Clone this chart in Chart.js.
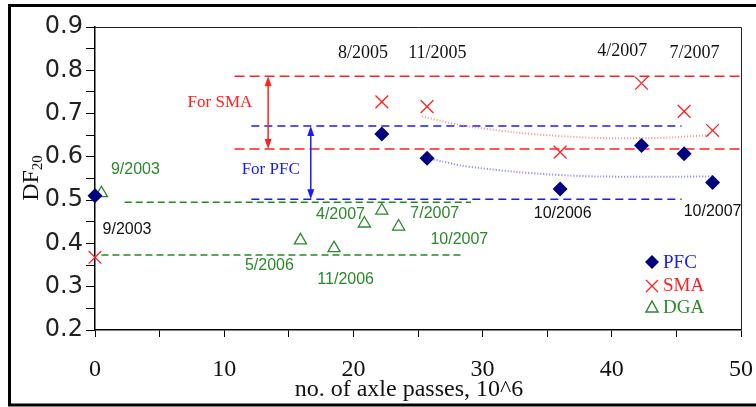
<!DOCTYPE html>
<html lang="en">
<head>
  <meta charset="utf-8">
  <title>DF20 vs axle passes</title>
  <script src="https://cdn.jsdelivr.net/npm/chart.js@4.4.1/dist/chart.umd.min.js"></script>
  <style>
    html, body { margin: 0; padding: 0; background: #fff; }
    #wrap { width: 756px; height: 407px; position: relative; }
  </style>
</head>
<body>
  <div id="wrap"><canvas id="dfChart"></canvas></div>
  <script>
    // axle passes (10^6) at each survey, and DF20 per surface
    const pfcPasses = [0, 22.2, 25.7, 36.0, 42.3, 45.6, 47.8];
    const pfcDF = [0.510, 0.653, 0.597, 0.526, 0.626, 0.607, 0.541];
    const smaPasses = [0, 22.2, 25.7, 36.0, 42.3, 45.6, 47.8];
    const smaDF = [0.368, 0.727, 0.716, 0.611, 0.770, 0.705, 0.661];
    const dgaPasses = [0.5, 15.9, 18.5, 20.85, 22.2, 23.5];
    const dgaDF = [0.516, 0.407, 0.389, 0.446, 0.476, 0.439];

    // dotted trend curves
    const smaTrendX = [25.3, 29, 36, 42.3, 47.7];
    const smaTrendY = [0.693, 0.670, 0.648, 0.643, 0.650];
    const pfcTrendX = [26.2, 29, 36, 42.3, 47.9];
    const pfcTrendY = [0.594, 0.577, 0.558, 0.554, 0.555];

    // dashed range lines: [y, xFrom, xTo]
    const smaRange = [[0.786, 10.8, 50], [0.618, 10.8, 50]];
    const pfcRange = [[0.671, 12.1, 45.4], [0.502, 12.1, 45.4]];
    const dgaRange = [[0.495, 2.3, 29.1], [0.373, 0.5, 28.3]];

    const xTicks = [0, 10, 20, 30, 40, 50];
    const yTicks = [0.2, 0.3, 0.4, 0.5, 0.6, 0.7, 0.8, 0.9];

    const RED = '#ff2020', BLUE = '#1a1aff', GREEN = '#2a8a2a', NAVY = '#000080';

    // date labels next to the points
    const serif18 = '18px "Liberation Serif"';
    const sans16 = '16px "Liberation Sans"';
    const notes = [
      { t: '8/2005', x: 20.74, y: 0.840, c: '#111', f: serif18 },
      { t: '11/2005', x: 26.5, y: 0.840, c: '#111', f: serif18 },
      { t: '4/2007', x: 40.8, y: 0.845, c: '#111', f: serif18 },
      { t: '7/2007', x: 46.4, y: 0.840, c: '#111', f: serif18 },
      { t: '10/2006', x: 36.2, y: 0.470, c: '#111', f: sans16 },
      { t: '10/2007', x: 47.8, y: 0.473, c: '#111', f: sans16 },
      { t: '9/2003', x: 2.48, y: 0.431, c: '#111', f: sans16 },
      { t: '9/2003', x: 3.13, y: 0.570, c: GREEN, f: sans16 },
      { t: '4/2007', x: 19.0, y: 0.466, c: GREEN, f: sans16 },
      { t: '7/2007', x: 26.3, y: 0.470, c: GREEN, f: sans16 },
      { t: '10/2007', x: 28.2, y: 0.410, c: GREEN, f: sans16 },
      { t: '5/2006', x: 13.5, y: 0.349, c: GREEN, f: sans16 },
      { t: '11/2006', x: 19.4, y: 0.316, c: GREEN, f: sans16 },
      { t: 'For SMA', x: 9.67, y: 0.7245, c: RED, f: '17px "Liberation Serif"' },
      { t: 'For PFC', x: 13.6, y: 0.570, c: BLUE, f: '17px "Liberation Serif"' }
    ];
    const arrows = [
      { x: 13.4, y1: smaRange[0][0], y2: smaRange[1][0], c: RED },
      { x: 16.7, y1: pfcRange[0][0], y2: pfcRange[1][0], c: BLUE }
    ];

    function pts(xs, ys) { return xs.map((v, i) => ({ x: v, y: ys[i] })); }

    function rangeSets(list, color, dash) {
      return list.map(r => ({
        type: 'line',
        data: [{ x: r[1], y: r[0] }, { x: r[2], y: r[0] }],
        borderColor: color, borderWidth: 1.5, borderDash: dash,
        pointRadius: 0, fill: false, order: 5
      }));
    }

    function drawArrow(ctx, x, yTop, yBot, color) {
      ctx.strokeStyle = color; ctx.fillStyle = color; ctx.lineWidth = 1.5;
      ctx.beginPath(); ctx.moveTo(x, yTop + 6); ctx.lineTo(x, yBot - 6); ctx.stroke();
      ctx.beginPath(); ctx.moveTo(x, yTop); ctx.lineTo(x - 3.5, yTop + 10); ctx.lineTo(x + 3.5, yTop + 10); ctx.closePath(); ctx.fill();
      ctx.beginPath(); ctx.moveTo(x, yBot); ctx.lineTo(x - 3.5, yBot - 10); ctx.lineTo(x + 3.5, yBot - 10); ctx.closePath(); ctx.fill();
    }

    const overlay = {
      id: 'overlay',
      beforeDraw(chart) {
        const ctx = chart.ctx;
        ctx.save();
        ctx.fillStyle = '#fff';
        ctx.fillRect(0, 0, chart.width, chart.height);
        ctx.restore();
      },
      afterDatasetsDraw(chart) {
        const { ctx, chartArea: a, scales: { x, y } } = chart;
        ctx.save();
        // box top / right
        ctx.strokeStyle = '#222'; ctx.lineWidth = 1;
        ctx.beginPath(); ctx.moveTo(a.left, a.top + 0.5); ctx.lineTo(a.right + 0.5, a.top + 0.5); ctx.lineTo(a.right + 0.5, a.bottom); ctx.stroke();
        // outer frame (open on the right)
        ctx.strokeStyle = '#000'; ctx.lineWidth = 3;
        ctx.beginPath(); ctx.moveTo(756, 5.5); ctx.lineTo(9.5, 5.5); ctx.lineTo(9.5, 405); ctx.lineTo(756, 405); ctx.stroke();

        arrows.forEach(ar => drawArrow(ctx, x.getPixelForValue(ar.x), y.getPixelForValue(ar.y1), y.getPixelForValue(ar.y2), ar.c));

        ctx.textAlign = 'center'; ctx.textBaseline = 'middle';
        notes.forEach(n => {
          ctx.font = n.f; ctx.fillStyle = n.c;
          ctx.fillText(n.t, x.getPixelForValue(n.x), y.getPixelForValue(n.y));
        });

        // axis titles
        ctx.fillStyle = '#111';
        ctx.font = '24px "Liberation Serif"';
        ctx.fillText('no. of axle passes, 10^6', 409, 390);
        ctx.save();
        ctx.translate(30, 178);
        ctx.rotate(-Math.PI / 2);
        ctx.textAlign = 'left'; ctx.textBaseline = 'alphabetic';
        ctx.font = '24px "Liberation Serif"';
        const w = ctx.measureText('DF').width;
        const w2 = (ctx.font = '15px "Liberation Serif"', ctx.measureText('20').width);
        const x0 = -(w + w2) / 2;
        ctx.font = '24px "Liberation Serif"';
        ctx.fillText('DF', x0, 8);
        ctx.font = '15px "Liberation Serif"';
        ctx.fillText('20', x0 + w, 12);
        ctx.restore();

        // legend
        const lx = 652, tx = 663;
        ctx.textAlign = 'left'; ctx.font = '19px "Liberation Serif"';
        ctx.fillStyle = NAVY;
        ctx.beginPath(); ctx.moveTo(lx, 262 - 7); ctx.lineTo(lx + 7, 262); ctx.lineTo(lx, 262 + 7); ctx.lineTo(lx - 7, 262); ctx.closePath(); ctx.fill();
        ctx.fillStyle = BLUE; ctx.fillText('PFC', tx, 263);
        ctx.strokeStyle = RED; ctx.lineWidth = 1.3;
        ctx.beginPath(); ctx.moveTo(lx - 6, 280); ctx.lineTo(lx + 6, 292); ctx.moveTo(lx + 6, 280); ctx.lineTo(lx - 6, 292); ctx.stroke();
        ctx.fillStyle = RED; ctx.fillText('SMA', tx, 286);
        ctx.strokeStyle = GREEN; ctx.lineWidth = 1.5;
        ctx.beginPath(); ctx.moveTo(lx, 301); ctx.lineTo(lx + 6, 312); ctx.lineTo(lx - 6, 312); ctx.closePath(); ctx.stroke();
        ctx.fillStyle = GREEN; ctx.fillText('DGA', tx, 308);
        ctx.restore();
      }
    };

    new Chart(document.getElementById('dfChart'), {
      type: 'scatter',
      data: {
        datasets: [
          { label: 'PFC', data: pts(pfcPasses, pfcDF), pointStyle: 'rectRot', pointRadius: 7.5,
            backgroundColor: NAVY, borderColor: NAVY, borderWidth: 0, order: 1, clip: false },
          { label: 'SMA', data: pts(smaPasses, smaDF), pointStyle: 'crossRot', pointRadius: 9,
            borderColor: RED, borderWidth: 1.3, order: 1, clip: false },
          { label: 'DGA', data: pts(dgaPasses, dgaDF), pointStyle: 'triangle', pointRadius: 7,
            borderColor: GREEN, backgroundColor: 'rgba(0,0,0,0)', borderWidth: 1.3, order: 1, clip: false },
          { type: 'line', data: pts(smaTrendX, smaTrendY), borderColor: 'rgba(255,110,110,0.8)',
            borderWidth: 2, borderDash: [1, 2], pointRadius: 0, tension: 0.4, fill: false, order: 4 },
          { type: 'line', data: pts(pfcTrendX, pfcTrendY), borderColor: 'rgba(90,90,255,0.8)',
            borderWidth: 2, borderDash: [1, 2], pointRadius: 0, tension: 0.4, fill: false, order: 4 },
          ...rangeSets(smaRange, RED, [10, 5]),
          ...rangeSets(pfcRange, BLUE, [8, 5]),
          ...rangeSets(dgaRange, '#1e8c1e', [7, 4])
        ]
      },
      options: {
        responsive: true,
        maintainAspectRatio: false,
        animation: false,
        layout: { padding: { top: 27, right: 15, left: 0, bottom: 0 } },
        plugins: { legend: { display: false }, tooltip: { enabled: false } },
        scales: {
          x: {
            type: 'linear', min: 0, max: 50,
            afterFit: s => { s.height = 77; s.paddingLeft = 0; s.paddingRight = 0; },
            ticks: {
              stepSize: 5, autoSkip: false, maxRotation: 0, padding: 18, color: '#111',
              font: { family: 'Liberation Serif', size: 24 },
              callback: v => xTicks.includes(v) ? String(v) : ''
            },
            grid: { drawOnChartArea: false, drawTicks: true, tickLength: 7, color: '#000' },
            border: { color: '#000', width: 1.5 }
          },
          y: {
            min: 0.2, max: 0.9,
            afterFit: s => { s.width = 95; },
            ticks: {
              stepSize: 0.05, autoSkip: false, padding: 3, color: '#222',
              font: { family: 'DejaVu Sans', size: 24 },
              callback: v => {
                const r = Math.round(v * 100);
                return r % 10 === 0 && yTicks.includes(r / 100) ? (r / 100).toFixed(1) : '';
              }
            },
            grid: { drawOnChartArea: false, drawTicks: true, tickLength: 9, color: '#000' },
            border: { color: '#000', width: 1.5 }
          }
        }
      },
      plugins: [overlay]
    });
  </script>
</body>
</html>
